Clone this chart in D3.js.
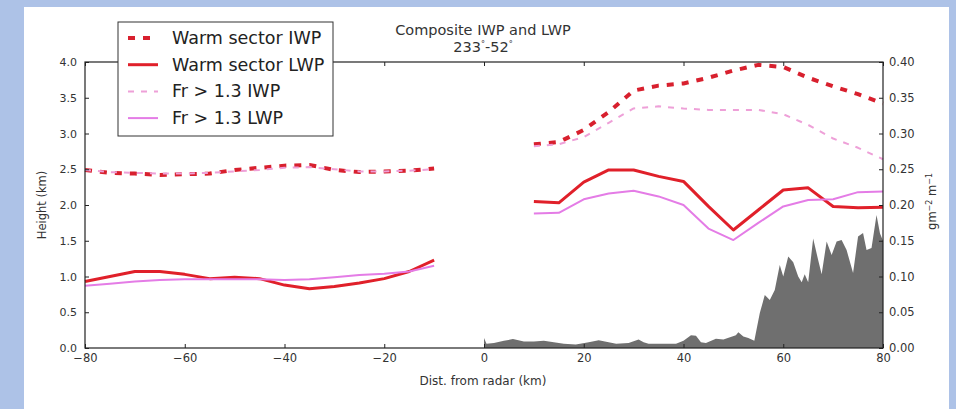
<!DOCTYPE html>
<html>
<head>
<meta charset="utf-8">
<script src="https://cdn.jsdelivr.net/npm/d3@7"></script>
<style>
  body { margin: 0; background: #adc2e7; }
  svg { display: block; font-family: "DejaVu Sans", sans-serif; }
</style>
</head>
<body>
<div id="chart"></div>
<script>
// distance from radar (km) for the profile lines
const dist = [-80, -75, -70, -65, -60, -55, -50, -45, -40, -35, -30, -25, -20, -15, -10,
              10, 15, 20, 25, 30, 35, 40, 45, 50, 55, 60, 65, 70, 75, 80];

// heights (km)
const warmIWP = [2.49, 2.45, 2.44, 2.42, 2.43, 2.44, 2.49, 2.52, 2.55, 2.56, 2.49, 2.46, 2.47, 2.48, 2.51,
                 2.85, 2.88, 3.05, 3.30, 3.60, 3.67, 3.70, 3.78, 3.88, 3.96, 3.93, 3.78, 3.66, 3.55, 3.42];
const warmLWP = [0.93, 1.00, 1.07, 1.07, 1.03, 0.97, 0.99, 0.97, 0.88, 0.83, 0.86, 0.91, 0.97, 1.07, 1.23,
                 2.05, 2.03, 2.32, 2.49, 2.49, 2.40, 2.33, 1.98, 1.65, 1.93, 2.21, 2.24, 1.98, 1.96, 1.97];
const frIWP   = [2.49, 2.46, 2.45, 2.44, 2.44, 2.45, 2.47, 2.49, 2.52, 2.53, 2.50, 2.47, 2.47, 2.48, 2.50,
                 2.82, 2.85, 2.95, 3.15, 3.35, 3.38, 3.35, 3.33, 3.33, 3.33, 3.27, 3.12, 2.93, 2.80, 2.64];
const frLWP   = [0.87, 0.90, 0.93, 0.95, 0.96, 0.96, 0.96, 0.96, 0.95, 0.96, 0.99, 1.02, 1.04, 1.07, 1.15,
                 1.88, 1.89, 2.08, 2.16, 2.20, 2.12, 2.00, 1.67, 1.51, 1.75, 1.98, 2.07, 2.08, 2.18, 2.19];

// grey profile on right axis (g m-2 m-1)
const areaDist = [0, 0.5, 2, 4, 5.8, 8, 10, 12, 14, 16, 18.4, 21, 23, 25, 26.5, 29, 31, 32, 33, 36, 38.5,
                  40, 41.5, 42.5, 43.5, 44.5, 46.5, 48, 50.5, 51, 52, 53, 54.2, 55.3, 56.3, 57.3, 58.3,
                  59.3, 60, 61, 62, 63, 63.7, 64.3, 65, 66, 67, 67.7, 68.7, 69.7, 70.7, 71.7, 72.7, 74,
                  75, 76, 76.7, 77.7, 78.7, 79.4, 80];
const areaVal  = [0.014, 0.006, 0.007, 0.010, 0.0125, 0.009, 0.009, 0.010, 0.008, 0.006, 0.005, 0.008,
                  0.011, 0.008, 0.006, 0.007, 0.012, 0.008, 0.006, 0.006, 0.006, 0.010, 0.018, 0.017,
                  0.008, 0.007, 0.013, 0.012, 0.018, 0.022, 0.016, 0.014, 0.010, 0.049, 0.074, 0.067,
                  0.081, 0.116, 0.100, 0.128, 0.120, 0.100, 0.092, 0.103, 0.092, 0.153, 0.123, 0.103,
                  0.149, 0.130, 0.149, 0.151, 0.137, 0.105, 0.156, 0.161, 0.137, 0.140, 0.186, 0.160, 0.150];

const xTicks = [-80, -60, -40, -20, 0, 20, 40, 60, 80];
const yLeftTicks = [0, 0.5, 1, 1.5, 2, 2.5, 3, 3.5, 4];
const yRightTicks = [0, 0.05, 0.1, 0.15, 0.2, 0.25, 0.3, 0.35, 0.4];

const series = [
  {name: "Warm sector IWP", values: warmIWP, color: "#d8202e", width: 4, dash: "7,8"},
  {name: "Warm sector LWP", values: warmLWP, color: "#e0202a", width: 3, dash: null},
  {name: "Fr > 1.3 IWP", values: frIWP, color: "#eea0d8", width: 2, dash: "6,7"},
  {name: "Fr > 1.3 LWP", values: frLWP, color: "#e47ce6", width: 2, dash: null}
];

const W = 956, H = 409;
const margin = {top: 62, right: 73, bottom: 61, left: 85};
const svg = d3.select("#chart").append("svg").attr("width", W).attr("height", H);

// panel
svg.append("rect").attr("x", 24).attr("y", 7).attr("width", 925).attr("height", H - 7).attr("fill", "#fff");

const x = d3.scaleLinear().domain([-80, 80]).range([margin.left, W - margin.right]);
const yL = d3.scaleLinear().domain([0, 4]).range([H - margin.bottom, margin.top]);
const yR = d3.scaleLinear().domain([0, 0.4]).range([H - margin.bottom, margin.top]);

// grey area
svg.append("path")
  .datum(areaDist.map((d, i) => [d, areaVal[i]]))
  .attr("fill", "#6f6f6f")
  .attr("d", d3.area().x(d => x(d[0])).y0(yR(0)).y1(d => yR(d[1])));

// lines, split into the two segments either side of the radar
const line = d3.line().x(d => x(d[0])).y(d => yL(d[1]));
series.forEach(s => {
  const pts = dist.map((d, i) => [d, s.values[i]]);
  [pts.filter(p => p[0] < 0), pts.filter(p => p[0] > 0)].forEach(seg => {
    svg.append("path")
      .datum(seg)
      .attr("fill", "none")
      .attr("stroke", s.color)
      .attr("stroke-width", s.width)
      .attr("stroke-dasharray", s.dash)
      .attr("stroke-linejoin", "round")
      .attr("d", line);
  });
});

// axes
const styleAxis = (g, size) => {
  g.select(".domain").remove();
  g.selectAll("line").attr("stroke", "#222");
  g.selectAll("text").attr("fill", "#333").style("font-size", size).style("font-family", "DejaVu Sans");
};
svg.append("g").attr("transform", `translate(0,${yL(0)})`)
  .call(d3.axisBottom(x).tickValues(xTicks).tickFormat(d3.format("d")).tickSizeInner(-4).tickSizeOuter(0).tickPadding(6))
  .call(styleAxis, "11.5px");
svg.append("g").attr("transform", `translate(0,${yL(4)})`)
  .call(d3.axisTop(x).tickValues(xTicks).tickFormat("").tickSizeInner(-4).tickSizeOuter(0))
  .call(styleAxis, "11.5px");
svg.append("g").attr("transform", `translate(${x(-80)},0)`)
  .call(d3.axisLeft(yL).tickValues(yLeftTicks).tickFormat(d3.format(".1f")).tickSizeInner(-4).tickSizeOuter(0).tickPadding(8))
  .call(styleAxis, "11px");
svg.append("g").attr("transform", `translate(${x(80)},0)`)
  .call(d3.axisRight(yR).tickValues(yRightTicks).tickFormat(d3.format(".2f")).tickSizeInner(-4).tickSizeOuter(0).tickPadding(6))
  .call(styleAxis, "11.5px");

// frame
svg.append("rect")
  .attr("x", x(-80)).attr("y", yL(4))
  .attr("width", x(80) - x(-80)).attr("height", yL(0) - yL(4))
  .attr("fill", "none").attr("stroke", "#222").attr("stroke-width", 1.2);

// titles and labels
const title = svg.append("text").attr("x", 483).attr("y", 35).attr("text-anchor", "middle")
  .attr("fill", "#333").style("font-size", "14.5px");
title.append("tspan").attr("x", 483).text("Composite IWP and LWP");
const t2 = title.append("tspan").attr("x", 483).attr("dy", 17);
t2.append("tspan").text("233");
t2.append("tspan").attr("dy", -5).style("font-size", "8px").text("°");
t2.append("tspan").attr("dy", 5).text("-52");
t2.append("tspan").attr("dy", -5).style("font-size", "8px").text("°");

svg.append("text").attr("x", 483).attr("y", 385).attr("text-anchor", "middle")
  .attr("fill", "#333").style("font-size", "12px").text("Dist. from radar (km)");

svg.append("text").attr("transform", `translate(46,${yL(2)}) rotate(-90)`).attr("text-anchor", "middle")
  .attr("fill", "#333").style("font-size", "11.5px").text("Height (km)");

const rl = svg.append("text").attr("transform", `translate(936,${yL(2.05)}) rotate(-90)`).attr("text-anchor", "middle")
  .attr("fill", "#333").style("font-size", "11.5px");
rl.append("tspan").text("gm");
rl.append("tspan").attr("dy", -4).style("font-size", "8px").text("−2");
rl.append("tspan").attr("dy", 4).text(" m");
rl.append("tspan").attr("dy", -4).style("font-size", "8px").text("−1");

// legend
const lg = svg.append("g").attr("transform", "translate(118,22)");
lg.append("rect").attr("width", 215).attr("height", 114).attr("fill", "#fff").attr("stroke", "#333").attr("stroke-width", 1);
series.forEach((s, i) => {
  const yy = 16 + i * 26.7;
  lg.append("line").attr("x1", 10).attr("x2", 40).attr("y1", yy).attr("y2", yy)
    .attr("stroke", s.color).attr("stroke-width", s.width).attr("stroke-dasharray", s.dash);
  lg.append("text").attr("x", 54).attr("y", yy + 6).attr("fill", "#222").style("font-size", "17.5px").text(s.name);
});
</script>
</body>
</html>
